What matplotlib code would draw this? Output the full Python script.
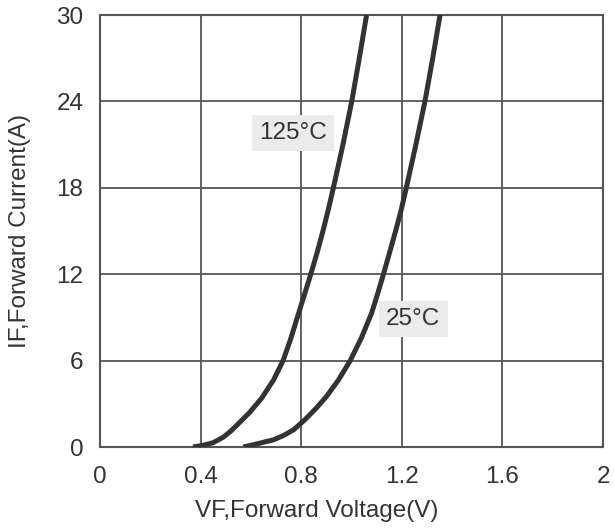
import matplotlib
matplotlib.use("Agg")
import matplotlib.pyplot as plt

plt.rcParams['font.family'] = ['Liberation Sans', 'DejaVu Sans']

# 正向特性曲线读数 (V, A)
vf_125 = [0.37, 0.41, 0.45, 0.49, 0.52, 0.555, 0.595, 0.643, 0.69, 0.728, 0.758, 0.79, 0.815,
          0.838, 0.865, 0.888, 0.908, 0.928, 0.966, 1.001, 1.031, 1.06]
if_125 = [0.0, 0.12, 0.3, 0.68, 1.1, 1.7, 2.4, 3.4, 4.65, 6.0, 7.5, 9.3, 10.7,
          12.0, 13.6, 15.1, 16.5, 18.0, 21.0, 24.0, 27.0, 30.0]

vf_25 = [0.57, 0.62, 0.69, 0.73, 0.77, 0.815, 0.86, 0.9, 0.948, 0.995, 1.04, 1.08, 1.105,
         1.127, 1.153, 1.177, 1.198, 1.218, 1.256, 1.292, 1.323, 1.352]
if_25 = [0.0, 0.2, 0.5, 0.8, 1.2, 1.9, 2.7, 3.5, 4.65, 6.0, 7.6, 9.3, 10.7,
         12.0, 13.6, 15.1, 16.5, 18.0, 21.0, 24.0, 27.0, 30.0]

x_ticks = [0, 0.4, 0.8, 1.2, 1.6, 2]
x_labels = ['0', '0.4', '0.8', '1.2', '1.6', '2']
y_ticks = [0, 6, 12, 18, 24, 30]

grid_color = '#555555'
curve_color = '#333333'
text_color = '#333333'

fig = plt.figure(figsize=(6.14, 5.28), dpi=100)
ax = fig.add_axes([100 / 614, 1 - 447 / 528, 503 / 614, 432 / 528])

ax.plot(vf_125, if_125, color=curve_color, lw=3.6, solid_capstyle='butt',
        solid_joinstyle='round', zorder=3)
ax.plot(vf_25, if_25, color=curve_color, lw=3.6, solid_capstyle='butt',
        solid_joinstyle='round', zorder=3)

ax.set_xlim(0, 2)
ax.set_ylim(0, 30)
ax.set_xticks(x_ticks)
ax.set_xticklabels(x_labels)
ax.set_yticks(y_ticks)
ax.grid(True, color=grid_color, lw=1.3)
ax.set_axisbelow(True)
for sp in ax.spines.values():
    sp.set_color(grid_color)
    sp.set_linewidth(1.5)
ax.tick_params(length=0, labelsize=17.5, colors=text_color)
ax.tick_params(axis='x', pad=14)
ax.tick_params(axis='y', pad=12)

ax.set_xlabel('VF,Forward Voltage(V)', fontsize=17.5, color=text_color)
ax.xaxis.set_label_coords(0.43, -0.123)
ax.set_ylabel('IF,Forward Current(A)', fontsize=17.5, color=text_color)
ax.yaxis.set_label_coords(-0.137, 0.5)

box = dict(boxstyle='square,pad=0.3', fc='#ebebeb', ec='none')
ax.text(0.767, 21.8, '125°C', fontsize=17.5, color=text_color, ha='center', va='center', bbox=box, zorder=4)
ax.text(1.245, 8.9, '25°C', fontsize=17.5, color=text_color, ha='center', va='center', bbox=box, zorder=4)

plt.savefig('out.png', dpi=100)
